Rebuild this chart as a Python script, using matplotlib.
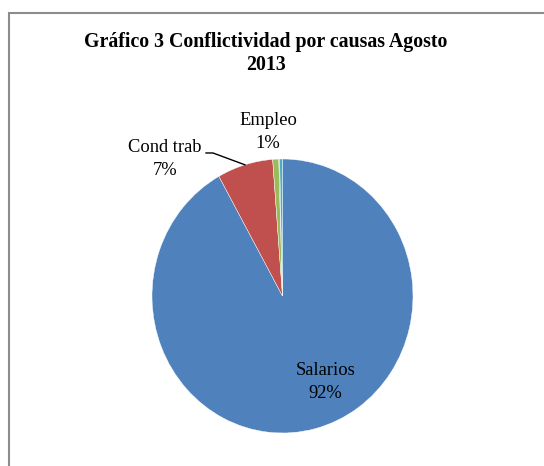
import numpy as np
import matplotlib.pyplot as plt
from matplotlib.patches import Rectangle

causas = ["Salarios", "Cond trab", "Empleo", "Otros", "Otros 2"]
porcentajes = [91.9, 6.9, 0.75, 0.1, 0.35]
colores = ["#4F81BD", "#C0504D", "#9BBB59", "#8064A2", "#4BACC6"]
etiquetas = ["Salarios\n92%", "Cond trab\n7%", "Empleo\n1%"]

W, H = 544, 466
fig = plt.figure(figsize=(W / 100, H / 100), dpi=100)
plt.rcParams['font.family'] = ['Liberation Serif', 'DejaVu Serif']

# marco del grafico
fig.patches.append(Rectangle((8.5 / W, -0.1), 1.2, 1 - 12.5 / H + 0.1,
                             transform=fig.transFigure, fill=False,
                             edgecolor="#8c8c8c", linewidth=1.5))

fig.text(266 / W, 1 - 42 / H, "Gráfico 3 Conflictividad por causas Agosto",
         ha="center", va="center", fontsize=14.3, fontweight="bold")
fig.text(266 / W, 1 - 64.5 / H, "2013",
         ha="center", va="center", fontsize=14.3, fontweight="bold")

# pie area
cx, cy, rx, ry = 282.5, 296, 130.5, 137
ax = fig.add_axes([(cx - rx) / W, 1 - (cy + ry) / H, 2 * rx / W, 2 * ry / H])
wedges, _ = ax.pie(porcentajes, colors=colores, startangle=90,
                   counterclock=False, radius=1,
                   wedgeprops=dict(edgecolor="white", linewidth=0.3))
ax.set_aspect("auto")
ax.set_xlim(-1, 1)
ax.set_ylim(-1, 1)
ax.axis("off")

fs = 13.3
ax.text(0.33, -0.63, etiquetas[0], ha="center", va="center",
        fontsize=fs, linespacing=1.45)
ax.text(-0.90, 1.00, etiquetas[1], ha="center", va="center",
        fontsize=fs, linespacing=1.45, clip_on=False)
ax.text(-0.11, 1.20, etiquetas[2], ha="center", va="center",
        fontsize=fs, linespacing=1.45, clip_on=False)

# linea guia de Cond trab
w = wedges[1]
ang = np.deg2rad((w.theta1 + w.theta2) / 2)
ax.plot([-0.586, -0.533, np.cos(ang)], [1.044, 1.044, np.sin(ang)],
        color="black", linewidth=1, clip_on=False)

fig.savefig("out.png", dpi=100)
